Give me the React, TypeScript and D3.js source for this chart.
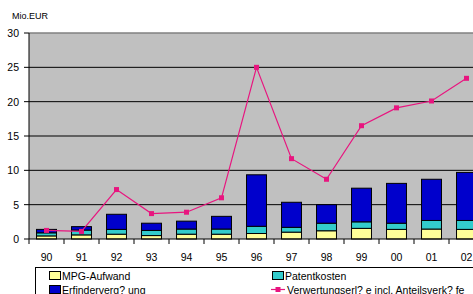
import React from 'react';
import * as d3 from 'd3';

const years = ['90', '91', '92', '93', '94', '95', '96', '97', '98', '99', '00', '01', '02'];
const mpgAufwand = [0.45, 0.6, 0.7, 0.5, 0.7, 0.7, 0.8, 1.0, 1.2, 1.55, 1.4, 1.45, 1.4];
const patentkosten = [0.45, 0.7, 0.7, 0.75, 0.75, 0.75, 1.05, 0.7, 1.1, 0.95, 0.9, 1.25, 1.3];
const erfinderverg = [0.5, 0.5, 2.2, 1.05, 1.15, 1.85, 7.5, 3.65, 2.7, 4.9, 5.8, 6.0, 7.0];
const verwertung = [1.25, 1.1, 7.2, 3.7, 3.9, 6.0, 25.0, 11.7, 8.7, 16.5, 19.1, 20.1, 23.4];
const yTicks = [0, 5, 10, 15, 20, 25, 30];

const seriesKeys = ['mpg', 'patent', 'erfinder'];
const seriesColors: Record<string, string> = {
  mpg: '#ffff99',
  patent: '#33cccc',
  erfinder: '#0000cc'
};
const lineColor = '#e8157f';

const W = 473, H = 294;
const left = 29, top = 33, plotRight = 484, bottom = 239;

export default function App() {
  const x = d3.scaleBand().domain(years).range([left, plotRight]).paddingInner(0.43).paddingOuter(0.215);
  const xc = d3.scaleBand().domain(years).range([left, plotRight]);
  const y = d3.scaleLinear().domain([0, 30]).range([bottom, top]);

  const rows = years.map((yr, i) => ({
    year: yr,
    mpg: mpgAufwand[i],
    patent: patentkosten[i],
    erfinder: erfinderverg[i]
  }));
  const stack = d3.stack<any>().keys(seriesKeys)(rows);

  const line = d3.line<number>()
    .x((d, i) => xc(years[i])! + xc.bandwidth() / 2)
    .y(d => y(d));

  const font = 'Liberation Sans, Arial, sans-serif';

  return (
    <div style={{ position: 'absolute', left: 0, top: 0, width: W, height: H, overflow: 'hidden', background: '#fff' }}>
      <svg width={W} height={H} style={{ display: 'block' }} fontFamily={font}>
        <text x={12} y={19} fontSize={9} fill="#000">Mio.EUR</text>
        <rect x={left} y={top} width={plotRight - left} height={bottom - top} fill="#c0c0c0" />
        {yTicks.map(t => (
          <g key={t}>
            {t > 0 && (
              <line x1={left} x2={plotRight} y1={y(t)} y2={y(t)}
                stroke={t === 30 ? '#808080' : '#000'} strokeWidth={t === 30 ? 1.5 : 1} />
            )}
            <line x1={left - 5} x2={left} y1={y(t)} y2={y(t)} stroke="#000" />
            <text x={19} y={y(t) + 4} fontSize={10.5} textAnchor="end" fill="#000">{t}</text>
          </g>
        ))}
        {stack.map(s => (
          <g key={s.key}>
            {s.map((d, i) => (
              <rect key={i} x={x(years[i])} y={y(d[1])} width={x.bandwidth()}
                height={y(d[0]) - y(d[1])} fill={seriesColors[s.key]} stroke="#000" strokeWidth={1} />
            ))}
          </g>
        ))}
        <line x1={left} x2={left} y1={top} y2={bottom} stroke="#000" />
        <line x1={left} x2={plotRight} y1={bottom} y2={bottom} stroke="#000" />
        {years.map((yr, i) => (
          <g key={yr}>
            <line x1={xc(yr)!} x2={xc(yr)!} y1={bottom} y2={bottom + 5} stroke="#000" />
            <text x={xc(yr)! + xc.bandwidth() / 2} y={261} fontSize={10.5} textAnchor="middle" fill="#000">{yr}</text>
          </g>
        ))}
        <path d={line(verwertung) || ''} fill="none" stroke={lineColor} strokeWidth={1.2} />
        {verwertung.map((v, i) => (
          <rect key={i} x={xc(years[i])! + xc.bandwidth() / 2 - 2.5} y={y(v) - 2.5} width={5} height={5} fill={lineColor} />
        ))}
        <rect x={35.5} y={267.5} width={500} height={40} fill="#fff" stroke="#000" />
        <rect x={49.5} y={271.5} width={11} height={8} fill={seriesColors.mpg} stroke="#000" />
        <text x={62} y={280} fontSize={10.5} fill="#000">MPG-Aufwand</text>
        <rect x={272.5} y={271.5} width={11} height={8} fill={seriesColors.patent} stroke="#000" />
        <text x={285} y={280} fontSize={10.5} fill="#000">Patentkosten</text>
        <rect x={49.5} y={285.5} width={11} height={8} fill={seriesColors.erfinder} stroke="#000" />
        <text x={62} y={293.5} fontSize={10.5} fill="#000">Erfinderverg? ung</text>
        <line x1={271} x2={285} y1={289.5} y2={289.5} stroke={lineColor} strokeWidth={1.2} />
        <rect x={275.5} y={287} width={5} height={5} fill={lineColor} />
        <text x={287} y={293.5} fontSize={10.5} fill="#000">Verwertungserl? e incl. Anteilsverk? fe</text>
      </svg>
    </div>
  );
}
